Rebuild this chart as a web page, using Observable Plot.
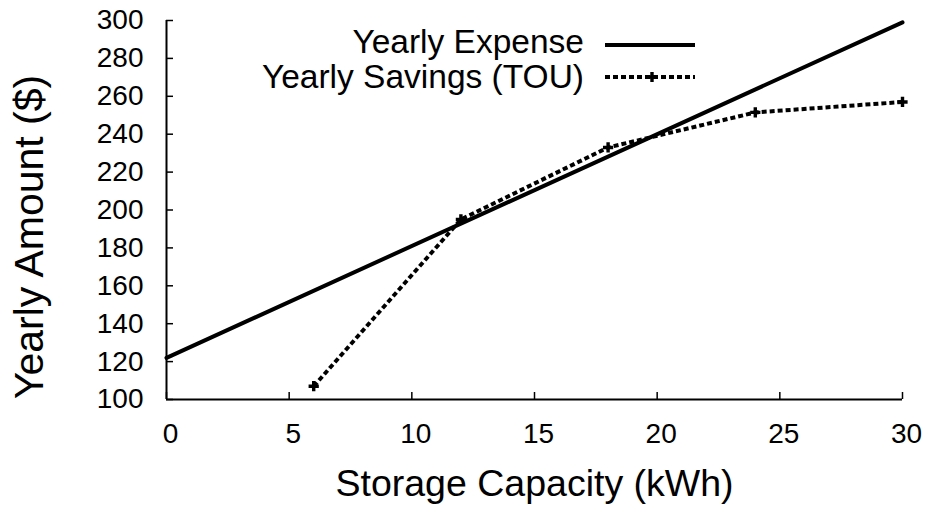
<!DOCTYPE html>
<html>
<head>
<meta charset="utf-8">
<script src="https://cdn.jsdelivr.net/npm/d3@7"></script>
<script src="https://cdn.jsdelivr.net/npm/@observablehq/plot@0.6"></script>
<style>
  html, body { margin: 0; padding: 0; background: #fff; }
  #wrap { position: relative; width: 925px; height: 505px; font-family: "Liberation Sans", Arial, sans-serif; }
  #legend { position: absolute; left: 0; top: 0; width: 925px; height: 505px; pointer-events: none; }
</style>
</head>
<body>
<div id="wrap"></div>
<script>
// ---- data ----
const capacity = [6, 12, 18, 24, 30];            // kWh
const savingsTOU = [107, 195, 233, 251.5, 257];  // $
const expenseCapacity = [0, 30];                 // kWh
const expenseValues = [122, 299];                // $
const xTicks = [0, 5, 10, 15, 20, 25, 30];
const yTicks = [100, 120, 140, 160, 180, 200, 220, 240, 260, 280, 300];
const seriesNames = ["Yearly Expense", "Yearly Savings (TOU)"];
const xTitle = "Storage Capacity (kWh)";
const yTitle = "Yearly Amount ($)";

const expense = expenseCapacity.map((c, i) => ({c, v: expenseValues[i]}));
const savings = capacity.map((c, i) => ({c, v: savingsTOU[i]}));

const font = "Liberation Sans, Arial, sans-serif";
const dash = "5,3";
const markerR = 4.3;

const chart = Plot.plot({
  width: 925,
  height: 505,
  marginLeft: 166,
  marginRight: 23,
  marginTop: 20,
  marginBottom: 106,
  style: {fontFamily: font, background: "#fff", color: "#000", overflow: "visible"},
  x: {domain: [0, 30]},
  y: {domain: [100, 300]},
  marks: [
    // axis lines (left and bottom only)
    Plot.ruleX([0], {stroke: "#000", strokeWidth: 2}),
    Plot.ruleY([100], {stroke: "#000", strokeWidth: 2}),
    // inward ticks
    Plot.axisX({ticks: xTicks, tickSize: -7, fill: "none", label: null, strokeWidth: 1.5}),
    Plot.axisY({ticks: yTicks, tickSize: -7, fill: "none", label: null, strokeWidth: 1.5}),
    // tick labels
    Plot.axisX({ticks: xTicks, tickSize: 0, tickPadding: 24, stroke: "none", label: null, fontSize: 28, dx: 4, tickFormat: d => String(d)}),
    Plot.axisY({ticks: yTicks, tickSize: 0, tickPadding: 23, stroke: "none", label: null, fontSize: 28, tickFormat: d => String(d)}),
    // axis titles
    Plot.text([xTitle], {frameAnchor: "bottom", textAnchor: "middle", lineAnchor: "bottom", dy: 96, fontSize: 37.5, fill: "#000"}),
    Plot.text([yTitle], {frameAnchor: "left", textAnchor: "middle", lineAnchor: "bottom", rotate: -90, dx: -124, dy: 27, fontSize: 41, fill: "#000"}),
    // series
    Plot.line(expense, {x: "c", y: "v", stroke: "#000", strokeWidth: 4}),
    Plot.line(savings, {x: "c", y: "v", stroke: "#000", strokeWidth: 4, strokeDasharray: dash}),
    Plot.dot(savings, {x: "c", y: "v", symbol: "cross", r: markerR, fill: "#000", stroke: "none"})
  ]
});

// make sure the dash pattern lands on the savings path itself
const lineGroups = chart.querySelectorAll('g[aria-label="line"]');
if (lineGroups.length > 1) {
  d3.select(lineGroups[1]).selectAll("path")
    .attr("stroke-dasharray", dash)
    .style("stroke-dasharray", dash)
    .attr("stroke-linecap", "butt");
}

const wrap = document.getElementById("wrap");
wrap.appendChild(chart);

// ---- legend overlay ----
const ns = "http://www.w3.org/2000/svg";
const lg = document.createElementNS(ns, "svg");
lg.setAttribute("id", "legend");
lg.setAttribute("width", 925);
lg.setAttribute("height", 505);
const rows = [
  {name: seriesNames[0], base: 53, ly: 45, dashArr: null, w: 4, marker: false},
  {name: seriesNames[1], base: 88, ly: 77, dashArr: dash, w: 4, marker: true}
];
rows.forEach(r => {
  const t = document.createElementNS(ns, "text");
  t.setAttribute("x", 584);
  t.setAttribute("y", r.base);
  t.setAttribute("text-anchor", "end");
  t.setAttribute("font-size", 33.5);
  t.setAttribute("font-family", font);
  t.setAttribute("fill", "#000");
  t.textContent = r.name;
  lg.appendChild(t);
  const l = document.createElementNS(ns, "line");
  l.setAttribute("x1", 605); l.setAttribute("x2", 695);
  l.setAttribute("y1", r.ly); l.setAttribute("y2", r.ly);
  l.setAttribute("stroke", "#000");
  l.setAttribute("stroke-width", r.w);
  if (r.dashArr) l.setAttribute("stroke-dasharray", r.dashArr);
  lg.appendChild(l);
  if (r.marker) {
    const p = document.createElementNS(ns, "path");
    p.setAttribute("d", d3.symbol(d3.symbolCross, markerR * markerR * Math.PI)());
    p.setAttribute("transform", `translate(652,${r.ly})`);
    p.setAttribute("fill", "#000");
    lg.appendChild(p);
  }
});
wrap.appendChild(lg);
</script>
</body>
</html>
